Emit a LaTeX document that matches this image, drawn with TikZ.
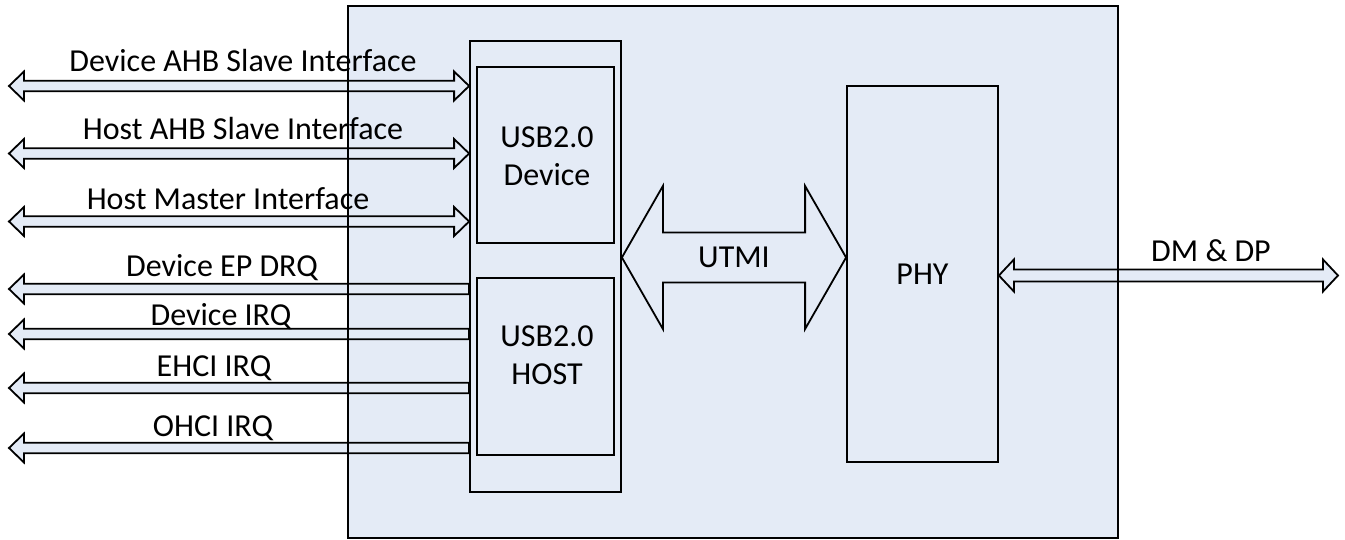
\documentclass[tikz,border=0pt]{standalone}
\usepackage{fontspec}
\setmainfont{Carlito}
\usepackage{tikz}
\usetikzlibrary{calc}
\definecolor{blockfill}{RGB}{228, 235, 246}

\tikzset{
  blockarrow/.style={draw=black, fill=blockfill, line width=1.8pt, line join=miter},
  unitbox/.style={draw=black, fill=blockfill, line width=1.8pt, inner sep=0pt}
}

% horizontal block arrows: ends, half shaft, half head, head length
\newcommand{\dblarrow}[5]{%
  \draw[blockarrow] (#1) -- ($(#1)+(#5,-#4)$) -- ($(#1)+(#5,-#3)$) -- ($(#2)+(-#5,-#3)$)
    -- ($(#2)+(-#5,-#4)$) -- (#2) -- ($(#2)+(-#5,#4)$) -- ($(#2)+(-#5,#3)$)
    -- ($(#1)+(#5,#3)$) -- ($(#1)+(#5,#4)$) -- cycle;}
\newcommand{\sglarrow}[5]{%
  \draw[blockarrow] (#1) -- ($(#1)+(#5,-#4)$) -- ($(#1)+(#5,-#3)$) -- ($(#2)+(0,-#3)$)
    -- ($(#2)+(0,#3)$) -- ($(#1)+(#5,#3)$) -- ($(#1)+(#5,#4)$) -- cycle;}

\begin{document}
\begin{tikzpicture}[x=1pt, y=-1pt, font=\fontsize{32}{38}\selectfont]
    \useasboundingbox (0,0) rectangle (1345,540);
    \node[fill=blockfill, inner sep=0pt, outer sep=0pt, minimum width=770pt, minimum height=532pt] (chip) at (733,272) {};
    \node[unitbox, minimum width=151pt, minimum height=451pt] (ctrl) at (545.5,266.5) {};
    \node[unitbox, minimum width=137pt, minimum height=176pt] (dev) at (545.5,155) {};
    \node[unitbox, minimum width=137pt, minimum height=177pt] (host) at (545.5,366.5) {};
    \node[unitbox, minimum width=151pt, minimum height=376pt] (phy) at (922.5,274) {PHY};
    \node[align=center] (devlbl) at (547,156.5) {USB2.0\\Device};
    \node[align=center] (hostlbl) at (547,355.5) {USB2.0\\HOST};

    % free ends of the bus arrows
    \coordinate (devahb) at (9,86);
    \coordinate (hostahb) at (9,153.5);
    \coordinate (hostmst) at (9,221.5);
    \coordinate (devdrq) at (9,289);
    \coordinate (devirq) at (9,334);
    \coordinate (ehciirq) at (9,388);
    \coordinate (ohciirq) at (9,448);
    \coordinate (dmdp) at (1338,275.5);

    \dblarrow{devahb}{devahb -| ctrl.west}{5.2}{14.5}{15}
    \dblarrow{hostahb}{hostahb -| ctrl.west}{5.2}{14.5}{15}
    \dblarrow{hostmst}{hostmst -| ctrl.west}{5.2}{14.5}{15}
    \sglarrow{devdrq}{devdrq -| ctrl.west}{5.2}{14.5}{15}
    \sglarrow{devirq}{devirq -| ctrl.west}{5.2}{14.5}{15}
    \sglarrow{ehciirq}{ehciirq -| ctrl.west}{5.2}{14.5}{15}
    \sglarrow{ohciirq}{ohciirq -| ctrl.west}{5.2}{14.5}{15}

    \node (utmi) at (734,257.5) {};
    \dblarrow{ctrl.east |- utmi}{phy.west |- utmi}{25}{71.5}{41}
    \node at (utmi) {UTMI};
    \dblarrow{phy.east |- dmdp}{dmdp}{6}{16}{15}

    \draw[line width=1.8pt] (chip.south west) rectangle (chip.north east);

    \node[anchor=base] (devahblbl) at (243,72) {Device AHB Slave Interface};
    \node[anchor=base] (hostahblbl) at (243,140) {Host AHB Slave Interface};
    \node[anchor=base] (hostmstlbl) at (228,210) {Host Master Interface};
    \node[anchor=base] (devdrqlbl) at (222,277) {Device EP DRQ};
    \node[anchor=base] (devirqlbl) at (221,326) {Device IRQ};
    \node[anchor=base] (ehcilbl) at (214,376) {EHCI IRQ};
    \node[anchor=base] (ohcilbl) at (213,436) {OHCI IRQ};
    \node[anchor=base] (dmdplbl) at (1211,262) {DM \& DP};
\end{tikzpicture}
\end{document}
